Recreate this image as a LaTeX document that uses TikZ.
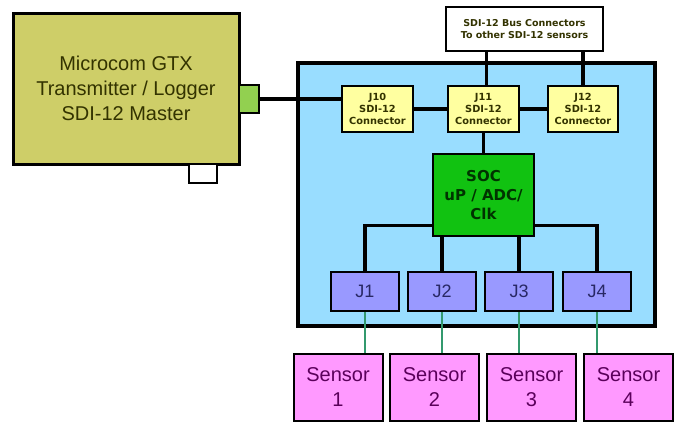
\documentclass[tikz,border=0pt]{standalone}
\usepackage{fontspec}
\setmainfont{Liberation Sans}
\newfontfamily\vfont{DejaVu Sans}
\usetikzlibrary{calc}
\definecolor{olivebox}{RGB}{206,206,104}
\definecolor{portgreen}{RGB}{146,208,80}
\definecolor{skyblue}{RGB}{153,221,255}
\definecolor{connyel}{RGB}{255,255,160}
\definecolor{socgreen}{RGB}{17,194,17}
\definecolor{jblue}{RGB}{153,153,255}
\definecolor{sensorpink}{RGB}{255,153,255}
\definecolor{teal}{RGB}{51,153,110}
\definecolor{olivetext}{RGB}{51,51,0}
\definecolor{purpletext}{RGB}{90,0,90}
\definecolor{navytext}{RGB}{40,40,100}
\begin{document}
\begin{tikzpicture}[x=1pt,y=-1pt,
  boxbase/.style={draw=black,rectangle,inner sep=0pt,align=center},
  mainbox/.style={boxbase,fill=olivebox,line width=3pt,font=\fontsize{20}{25}\selectfont,text=olivetext},
  conn/.style={boxbase,fill=connyel,line width=2pt,font=\vfont\bfseries\fontsize{9.8}{12.3}\selectfont,text=olivetext},
  jbox/.style={boxbase,fill=jblue,line width=2pt,minimum width=68pt,minimum height=39pt,font=\fontsize{18}{22}\selectfont,text=navytext},
  sensor/.style={boxbase,fill=sensorpink,line width=2pt,minimum width=89pt,minimum height=67pt,font=\fontsize{20}{25}\selectfont,text=purpletext},
  bus/.style={line width=3.4pt,draw=black},
  tealline/.style={line width=2.6pt,draw=teal}]
\useasboundingbox (0,0) rectangle (677,423);
% main logger
\node[mainbox,minimum width=226pt,minimum height=151pt] (gtx) at (126,88.5) {Microcom GTX\\Transmitter / Logger\\SDI-12 Master};
\node[boxbase,fill=portgreen,line width=2.2pt,minimum width=20pt,minimum height=28pt] (port) at (249,99) {};
\node[boxbase,fill=white,line width=2.2pt,minimum width=28pt,minimum height=19pt] (aux) at (203,173.5) {};
% sensor interface board
\node[boxbase,fill=skyblue,line width=3.4pt,minimum width=357pt,minimum height=263pt] (board) at (476.5,194.5) {};
\node[boxbase,fill=white,line width=2pt,minimum width=157pt,minimum height=44pt,font=\vfont\bfseries\fontsize{9.5}{12.5}\selectfont,text=olivetext] (bus) at (524.5,29) {SDI-12 Bus Connectors\\To other SDI-12 sensors};
\node[conn,minimum width=71pt,minimum height=46pt] (j10) at (377.5,109) {J10\\SDI-12\\Connector};
\node[conn,minimum width=71pt,minimum height=46pt] (j11) at (483.5,109) {J11\\SDI-12\\Connector};
\node[conn,minimum width=70pt,minimum height=46pt] (j12) at (583,109) {J12\\SDI-12\\Connector};
\node[boxbase,fill=socgreen,line width=2.8pt,minimum width=101pt,minimum height=82pt,font=\vfont\bfseries\fontsize{15}{19}\selectfont,text=black!80!green] (soc) at (483.5,195) {SOC\\uP / ADC/\\Clk};
\node[jbox] (j1) at (365,291.5) {J1};
\node[jbox] (j2) at (442,291.5) {J2};
\node[jbox] (j3) at (519,291.5) {J3};
\node[jbox] (j4) at (597,291.5) {J4};
\node[sensor] (s1) at (338,387.5) {Sensor\\1};
\node[sensor] (s2) at (434.5,387.5) {Sensor\\2};
\node[sensor] (s3) at (531.5,387.5) {Sensor\\3};
\node[sensor] (s4) at (628.5,387.5) {Sensor\\4};
% connectors
\draw[bus] (port.east) -- (port.east -| j10.west);
\draw[bus] (j10.east) -- (j11.west);
\draw[bus] (j11.east) -- (j12.west);
\draw[bus] ($(j11.north)+(3,0)$) -- ($(j11.north |- bus.south)+(3,0)$);
\draw[bus] (j12.north) -- (j12.north |- bus.south);
\draw[bus] (j11.south) -- (soc.north);
\coordinate (socl) at ($(soc.south west)+(0,-12)$);
\coordinate (socr) at ($(soc.south east)+(0,-12)$);
\draw[bus] (socl) -| (j1.north);
\draw[bus] (soc.south -| j2.north) -- (j2.north);
\draw[bus] (soc.south -| j3.north) -- (j3.north);
\draw[bus] (socr) -| (j4.north);
\draw[tealline] (j1.south) -- (j1.south |- s1.north);
\draw[tealline] (j2.south) -- (j2.south |- s2.north);
\draw[tealline] (j3.south) -- (j3.south |- s3.north);
\draw[tealline] (j4.south) -- (j4.south |- s4.north);
\end{tikzpicture}
\end{document}
